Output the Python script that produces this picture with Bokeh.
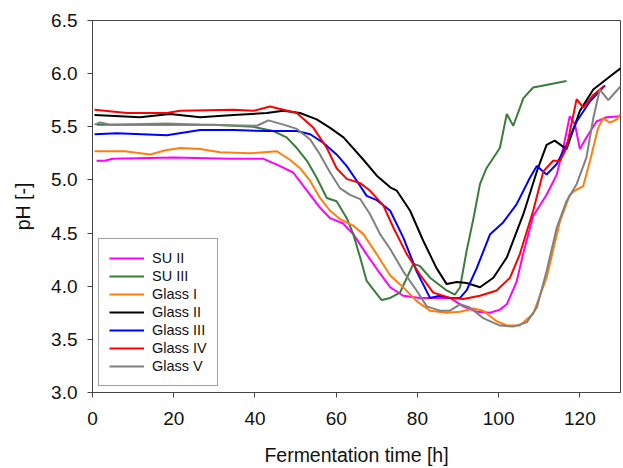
from bokeh.plotting import figure
from bokeh.models import Range1d, FixedTicker, Legend, LegendItem, NumeralTickFormatter
from bokeh.embed import file_html
from bokeh.resources import INLINE

names = ["SU II", "SU III", "Glass I", "Glass II", "Glass III", "Glass IV", "Glass V"]
colors = ["#ff00ff", "#3a7d3a", "#ff7f0e", "#000000", "#0000ff", "#ff0000", "#808080"]

su2_t = [1, 3, 5, 20, 34, 42, 46.2, 49.4, 52.8, 56, 58.5, 61.7, 64.2, 67.5, 70.8, 73.3, 76.5, 80.6, 84.7, 88,
         91.3, 94.6, 97.9, 100.3, 102, 104.4, 106, 108.5, 111.8, 114.3, 115.9, 117.5, 118.8, 120, 121.6, 124.1, 126.6, 130]
su2_ph = [5.18, 5.18, 5.20, 5.21, 5.20, 5.20, 5.13, 5.07, 4.90, 4.74, 4.64, 4.59, 4.49, 4.30, 4.12, 3.99, 3.91, 3.89, 3.89, 3.89,
          3.81, 3.76, 3.75, 3.78, 3.83, 4.04, 4.30, 4.66, 4.86, 5.05, 5.30, 5.60, 5.52, 5.29, 5.40, 5.55, 5.59, 5.60]

su3_t = [1, 10, 20, 30, 39.6, 44.5, 47.8, 50.3, 52.8, 55.2, 57.7, 60.1, 62.6, 64.2, 65.9, 67.5, 69.1, 71.2, 73.3, 75.7,
         77.4, 79, 80.6, 83.1, 87.2, 89.2, 90.5, 92.1, 93.8, 95.4, 97, 100.3, 102, 103.6, 106.1, 108.5, 112.6, 116.7]
su3_ph = [5.52, 5.52, 5.52, 5.52, 5.50, 5.46, 5.40, 5.30, 5.18, 5.02, 4.83, 4.80, 4.64, 4.49, 4.27, 4.05, 3.97, 3.87, 3.89, 3.94,
          4.08, 4.21, 4.19, 4.08, 3.96, 3.92, 3.99, 4.33, 4.64, 4.96, 5.11, 5.30, 5.62, 5.51, 5.77, 5.87, 5.90, 5.93]

g1_t = [0.5, 8, 14.2, 18, 21.6, 26.5, 31.4, 38.8, 45.4, 48.6, 51.1, 53.6, 56, 58.5, 61, 64.2, 66.7, 70, 73.3, 76.5,
        79.8, 83.1, 87.2, 90.5, 93.8, 96.2, 99.5, 102, 105.2, 108.5, 111.8, 115.1, 117.5, 119.2, 120.8, 122.5, 124.5, 125.7,
        127.4, 129.1, 130]
g1_ph = [5.27, 5.27, 5.24, 5.28, 5.30, 5.29, 5.26, 5.25, 5.27, 5.19, 5.11, 4.99, 4.83, 4.71, 4.63, 4.57, 4.49, 4.30, 4.10, 3.99,
         3.86, 3.77, 3.75, 3.76, 3.79, 3.77, 3.67, 3.63, 3.63, 3.74, 4.08, 4.61, 4.86, 4.91, 4.94, 5.18, 5.49, 5.58,
         5.54, 5.57, 5.62]

g2_t = [0.5, 11.7, 19.1, 26.5, 34.7, 42.9, 47, 51.1, 55.2, 58.5, 61.8, 66.7, 70, 73.3, 74.9, 78.2, 81.4, 84.7, 87.2, 89.7,
        92.1, 95.4, 98.7, 102, 106.1, 109.4, 111.8, 113.8, 116.7, 120, 123.3, 126.6, 130]
g2_ph = [5.61, 5.59, 5.62, 5.59, 5.61, 5.63, 5.65, 5.63, 5.57, 5.49, 5.40, 5.19, 5.04, 4.93, 4.90, 4.71, 4.43, 4.17, 4.02, 4.04,
         4.03, 3.99, 4.08, 4.27, 4.68, 5.08, 5.33, 5.37, 5.29, 5.65, 5.85, 5.95, 6.05]

g3_t = [0.5, 6, 18.3, 26.5, 34.7, 42.9, 50.3, 53.6, 56.8, 60.1, 62.6, 65.1, 67.5, 70, 73.3, 76.5, 79.8, 83.1, 85.5, 88,
        90.5, 92.1, 94.6, 97.9, 101.1, 104.4, 107.7, 109.4, 111.8, 114.3, 116.7, 119.2, 122.5, 126.2]
g3_ph = [5.43, 5.44, 5.42, 5.47, 5.47, 5.46, 5.46, 5.43, 5.35, 5.24, 5.13, 4.99, 4.85, 4.81, 4.71, 4.46, 4.14, 3.89, 3.91, 3.89,
         3.89, 3.96, 4.17, 4.49, 4.60, 4.77, 5.02, 5.13, 5.05, 5.15, 5.33, 5.55, 5.74, 5.89]

g4_t = [0.5, 8.5, 18.3, 21.6, 34.7, 39.6, 43.7, 47, 50.3, 54.4, 57.7, 60.1, 62.6, 65.9, 68.3, 71.6, 74.1, 77.4, 80.6, 83.9,
        88, 91.3, 95.4, 99.5, 102.8, 105.2, 108.5, 111, 113.4, 115.1, 116.7, 119.2, 120.8, 123.3, 125.8]
g4_ph = [5.66, 5.63, 5.63, 5.65, 5.66, 5.65, 5.69, 5.66, 5.63, 5.49, 5.30, 5.11, 5.01, 4.97, 4.90, 4.76, 4.55, 4.30, 4.11, 3.94,
         3.89, 3.88, 3.91, 3.96, 4.08, 4.30, 4.71, 5.08, 5.18, 5.18, 5.30, 5.76, 5.68, 5.80, 5.88]

g5_t = [0.5, 1.9, 4.4, 18.3, 26.5, 40.5, 43.3, 47, 50.3, 53.6, 56, 58.5, 61, 63.4, 65.9, 68.3, 70.8, 73.3, 76.5, 79.8,
        82.3, 85.5, 88, 90.5, 92.9, 96.2, 100.3, 103.6, 106.9, 109.4, 111.8, 114.3, 116.7, 119.2, 121.6, 123.3, 124.9, 127,
        128.6, 130]
g5_ph = [5.52, 5.54, 5.52, 5.53, 5.52, 5.51, 5.56, 5.52, 5.48, 5.38, 5.24, 5.07, 4.92, 4.86, 4.82, 4.68, 4.49, 4.35, 4.14, 3.96,
         3.81, 3.77, 3.77, 3.83, 3.80, 3.70, 3.63, 3.62, 3.66, 3.80, 4.14, 4.55, 4.80, 4.96, 5.21, 5.58, 5.85, 5.75,
         5.82, 5.88]

x_ticks = [0, 20, 40, 60, 80, 100, 120]
y_ticks = [3.0, 3.5, 4.0, 4.5, 5.0, 5.5, 6.0, 6.5]

series = [(su2_t, su2_ph), (su3_t, su3_ph), (g1_t, g1_ph), (g2_t, g2_ph), (g3_t, g3_ph), (g4_t, g4_ph), (g5_t, g5_ph)]

FONT = "Liberation Sans"
TXT = "#111111"
AX = "#444444"

p = figure(width=623, height=468, output_backend="svg", toolbar_location=None,
           x_range=Range1d(0, 130), y_range=Range1d(3.0, 6.5),
           min_border_left=92, min_border_right=3, min_border_top=20, min_border_bottom=76)
p.background_fill_color = "white"
p.border_fill_color = "white"
p.outline_line_color = AX
p.outline_line_width = 1
p.grid.visible = False

for ax, ticks in ((p.xaxis, x_ticks), (p.yaxis, y_ticks)):
    ax.ticker = FixedTicker(ticks=ticks)
    ax.minor_tick_line_color = None
    ax.major_tick_in = 0
    ax.major_tick_out = 5
    ax.axis_line_color = AX
    ax.major_tick_line_color = AX
    ax.major_label_text_font = FONT
    ax.major_label_text_font_size = "19px"
    ax.major_label_text_color = TXT
    ax.axis_label_text_font = FONT
    ax.axis_label_text_font_size = "19.5px"
    ax.axis_label_text_font_style = "normal"
    ax.axis_label_text_color = TXT

p.yaxis.formatter = NumeralTickFormatter(format="0.0")
p.xaxis.axis_label = "Fermentation time [h]"
p.yaxis.axis_label = "pH [-]"
p.xaxis.major_label_standoff = 14
p.xaxis.axis_label_standoff = 16
p.yaxis.major_label_standoff = 10
p.yaxis.axis_label_standoff = 14

items = []
for name, col, (t, ph) in zip(names, colors, series):
    r = p.line(t, ph, line_color=col, line_width=2)
    items.append(LegendItem(label=name, renderers=[r]))

legend = Legend(items=items, location=(6, 6), margin=0, padding=10, spacing=0,
                label_height=18, glyph_height=18, glyph_width=35, label_standoff=8,
                label_text_font=FONT, label_text_font_size="14.5px", label_text_color=TXT,
                border_line_color=AX, border_line_width=1, background_fill_alpha=1)
p.add_layout(legend)

open("out.html", "w").write(file_html(p, INLINE))
